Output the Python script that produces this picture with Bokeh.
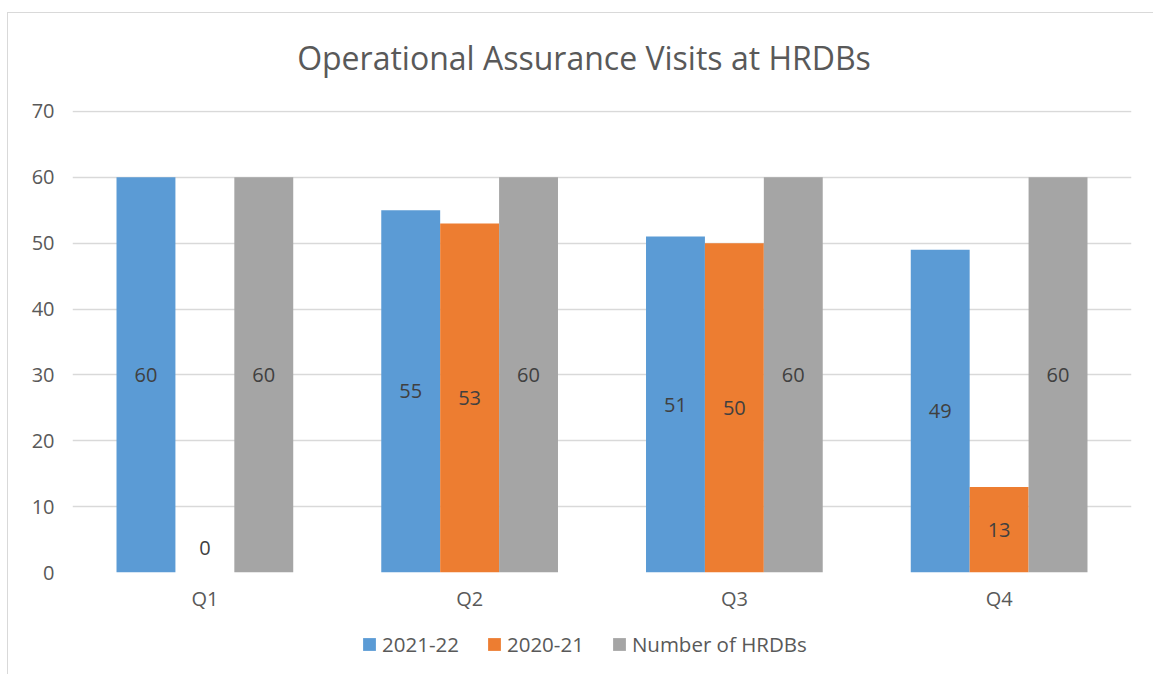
from bokeh.plotting import figure
from bokeh.layouts import column
from bokeh.models import (ColumnDataSource, FactorRange, Range1d, LabelSet, Label, Legend,
                          LegendItem, FixedTicker)
from bokeh.core.properties import value
from bokeh.transform import dodge
from bokeh.embed import file_html
from bokeh.resources import INLINE

# ---- data ----
title_text = "Operational Assurance Visits at HRDBs"
quarters = ["Q1", "Q2", "Q3", "Q4"]
visits_2021_22 = [60, 55, 51, 49]
visits_2020_21 = [0, 53, 50, 13]
number_of_hrdbs = [60, 60, 60, 60]
series_names = ["2021-22", "2020-21", "Number of HRDBs"]
series_colors = ["#5B9BD5", "#ED7D31", "#A5A5A5"]
y_ticks = [0, 10, 20, 30, 40, 50, 60, 70]

FONT = "Open Sans"
BAR_W = 0.2225
BL, BR = 64, 22   # left / right borders shared by all strips


def strip(height, x_range, y_range):
    f = figure(width=1145, height=height, x_range=x_range, y_range=y_range,
               x_axis_location=None, y_axis_location=None, output_backend="svg",
               toolbar_location=None, min_border_left=BL, min_border_right=BR,
               min_border_top=0, min_border_bottom=0)
    f.outline_line_color = None
    f.grid.grid_line_color = None
    f.border_fill_color = "white"
    f.background_fill_color = "white"
    return f


# ---- title strip ----
tf = strip(80, Range1d(0, 1), Range1d(0, 1))
tf.add_layout(Label(x=511.5, y=36, x_units="screen", y_units="screen", text=title_text,
                    text_align="center", text_baseline="middle", text_font=FONT,
                    text_font_size="32px", text_color="#595959"))

# ---- main chart ----
p = figure(width=1145, height=527, x_range=FactorRange(*quarters), y_range=Range1d(0, 70.15),
           output_backend="svg", toolbar_location=None,
           min_border_left=BL, min_border_right=BR, min_border_top=17, min_border_bottom=48)
p.outline_line_color = None
p.background_fill_color = "white"
p.border_fill_color = "white"

# ---- legend strip below the chart (same data, bars kept out of its view) ----
lf = strip(54, FactorRange(*quarters), Range1d(100, 101))

series = [visits_2021_22, visits_2020_21, number_of_hrdbs]
offsets = [-BAR_W, 0.0, BAR_W]
items = []
for name, vals, col, off in zip(series_names, series, series_colors, offsets):
    src = ColumnDataSource(dict(q=quarters, v=vals,
                                ly=[v / 2 for v in vals],
                                yo=[25 if v == 0 else 0 for v in vals],
                                t=[str(v) for v in vals]))
    p.vbar(x=dodge("q", off, range=p.x_range), top="v", width=BAR_W, source=src,
           fill_color=col, line_color=None)
    lab = LabelSet(x=dodge("q", off, range=p.x_range), y="ly", text="t", y_offset="yo",
                   source=src, text_align="center", text_baseline="middle",
                   text_font=value(FONT), text_font_size="20px", text_color="#404040")
    p.add_layout(lab)
    r = lf.vbar(x=dodge("q", off, range=lf.x_range), top="v", width=BAR_W, source=src,
                fill_color=col, line_color=None)
    items.append(LegendItem(label=name, renderers=[r]))

# axes
p.yaxis.ticker = FixedTicker(ticks=y_ticks)
for ax in (p.xaxis[0], p.yaxis[0]):
    ax.axis_line_color = None
    ax.major_tick_line_color = None
    ax.minor_tick_line_color = None
    ax.major_tick_out = 0
    ax.major_label_text_font = FONT
    ax.major_label_text_font_size = "20px"
    ax.major_label_text_color = "#595959"
p.yaxis.major_label_standoff = 18
p.xaxis.major_label_standoff = 12
p.xgrid.grid_line_color = None
p.ygrid.grid_line_color = "#D9D9D9"
p.ygrid.grid_line_width = 1.3

legend = Legend(items=items, orientation="horizontal", location=(289, 16),
                glyph_width=16, glyph_height=16, label_standoff=5, spacing=27,
                label_text_font=FONT, label_text_font_size="20.5px", label_text_color="#595959",
                border_line_color=None, background_fill_alpha=0, padding=4, margin=0)
lf.add_layout(legend, "center")

layout = column(tf, p, lf, spacing=0,
                styles={"border-left": "1px solid #D9D9D9", "border-top": "1px solid #D9D9D9",
                        "margin-left": "7px", "margin-top": "12px"})

open("out.html", "w").write(file_html(layout, INLINE))
